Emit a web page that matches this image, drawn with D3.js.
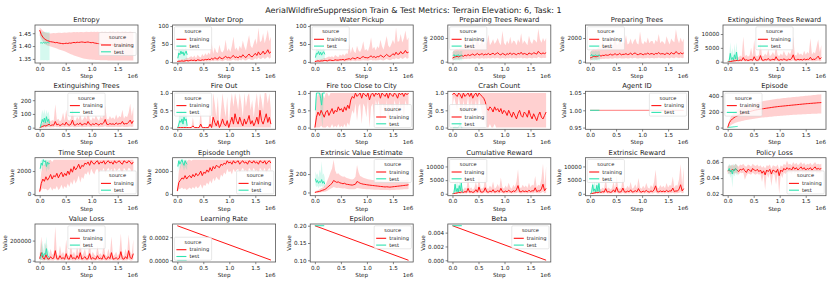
<!DOCTYPE html>
<html><head><meta charset="utf-8">
<script src="https://cdn.jsdelivr.net/npm/d3@7"></script>
<style>body{margin:0;background:#fff}svg{display:block}text{font-family:"DejaVu Sans",sans-serif;fill:#222}</style>
</head><body><svg id="c" width="831" height="283"></svg>
<script>
// ---------------- DATA ----------------
const suptitle = "AerialWildfireSuppression Train & Test Metrics: Terrain Elevation: 6, Task: 1";
const stepsK = [0,30,60,90,120,150,180,210,240,270,
 300,330,360,390,420,450,480,510,540,570,
 600,630,660,690,720,750,780,810,840,870,
 900,930,960,990,1020,1050,1080,1110,1140,1170,
 1200,1230,1260,1290,1320,1350,1380,1410,1440,1470,
 1500,1530,1560,1590,1620,1650,1680,1710,1740,1770,
 1800];
const testStepsK = [10,30,50,70,90,110,130,150,170,190];
const lineStepsK = [0,1800];
const lineTestStepsK = [0,180];
const xTicks = [0,500000,1000000,1500000];
const xTickLabels = ["0.0","0.5","1.0","1.5"];

const entropyMean = [1.462,1.445,1.435,1.428,1.424,1.421,1.419,1.417,1.416,1.415,
 1.413,1.414,1.412,1.411,1.410,1.409,1.410,1.411,1.410,1.412,
 1.411,1.413,1.414,1.413,1.415,1.414,1.415,1.416,1.415,1.414,
 1.415,1.416,1.414,1.413,1.414,1.412,1.411,1.410,1.409,1.408,
 1.407,1.406,1.406,1.405,1.405,1.404,1.405,1.404,1.403,1.404,
 1.405,1.404,1.403,1.404,1.405,1.404,1.403,1.404,1.405,1.404,
 1.404];
const entropyLo = [1.440,1.428,1.418,1.410,1.405,1.402,1.400,1.398,1.396,1.394,
 1.392,1.390,1.388,1.386,1.384,1.382,1.380,1.377,1.374,1.371,
 1.368,1.366,1.363,1.361,1.359,1.357,1.355,1.353,1.352,1.351,
 1.350,1.349,1.348,1.348,1.347,1.347,1.346,1.346,1.346,1.345,
 1.345,1.345,1.345,1.345,1.344,1.344,1.344,1.344,1.344,1.344,
 1.344,1.344,1.344,1.344,1.344,1.344,1.344,1.344,1.344,1.344,
 1.344];
const entropyHi = [1.472,1.466,1.460,1.455,1.452,1.451,1.450,1.449,1.450,1.451,
 1.450,1.451,1.452,1.452,1.451,1.452,1.453,1.452,1.453,1.454,
 1.453,1.454,1.455,1.454,1.455,1.454,1.455,1.455,1.454,1.455,
 1.456,1.455,1.455,1.456,1.455,1.456,1.455,1.456,1.455,1.455,
 1.456,1.455,1.456,1.455,1.455,1.456,1.455,1.456,1.455,1.455,
 1.456,1.455,1.455,1.456,1.455,1.456,1.455,1.455,1.456,1.455,
 1.455];
const entropyTestMean = [1.412,1.413,1.411,1.414,1.412,1.413,1.412,1.414,1.413,1.412];
const entropyTestLo = [1.345,1.345,1.346,1.345,1.345,1.346,1.345,1.345,1.346,1.345];
const entropyTestHi = [1.455,1.456,1.455,1.455,1.456,1.455,1.456,1.455,1.455,1.456];

const waterDropMean = [1,2,2,3,2,3,4,3,4,5,
 4,5,3,6,5,4,6,5,7,6,
 8,6,10,7,12,9,8,14,10,9,
 12,16,11,13,10,15,18,12,14,11,
 16,13,20,15,12,18,22,16,14,19,
 24,18,28,20,23,30,22,26,34,24,
 28];
const waterDropLo = [0,0,0,0,0,0,1,0,1,1,
 1,1,0,2,1,1,2,1,2,1,
 2,1,3,2,4,3,2,5,3,2,
 4,6,3,4,3,5,7,4,5,3,
 6,4,8,5,4,7,9,6,5,7,
 10,7,12,8,9,13,8,11,15,9,
 12];
const waterDropHi = [3,5,6,8,7,9,12,10,14,16,
 12,18,10,20,15,12,22,16,24,18,
 26,20,55,22,40,28,25,48,30,26,
 35,62,30,38,28,45,70,34,40,30,
 45,36,60,42,32,55,75,45,38,52,
 65,48,95,55,60,80,52,68,90,58,
 70];
const waterDropTestMean = [10,25,20,30,22,28,18,25,30,20];
const waterDropTestLo = [0,5,5,10,5,8,3,5,10,0];
const waterDropTestHi = [25,40,35,38,36,40,32,38,40,30];

const waterPickupMean = [1,2,3,2,3,3,4,4,3,5,
 5,4,4,6,5,5,6,6,7,5,
 7,8,9,7,11,10,8,13,11,9,
 13,15,12,12,11,14,17,13,15,12,
 15,14,19,16,13,17,21,17,15,18,
 23,19,27,21,22,29,23,25,32,25,
 27];
const waterPickupLo = [0,0,0,0,0,0,1,1,0,1,
 1,1,1,2,1,1,2,2,2,1,
 2,2,3,2,4,3,2,4,3,3,
 4,5,4,4,3,5,6,4,5,4,
 5,5,7,5,4,6,8,6,5,6,
 9,7,11,8,8,12,8,10,14,9,
 11];
const waterPickupHi = [3,5,7,7,8,9,11,11,13,15,
 14,16,12,19,16,13,21,17,22,17,
 24,22,50,24,42,30,24,45,32,28,
 38,58,32,36,30,44,68,36,42,32,
 44,38,62,44,34,52,72,46,40,50,
 62,50,96,56,58,78,54,66,88,60,
 68];
const waterPickupTestMean = [12,24,22,29,20,27,19,26,28,21];
const waterPickupTestLo = [0,6,4,9,6,7,4,6,9,1];
const waterPickupTestHi = [26,39,36,37,35,41,33,37,39,31];

const prepRewardMean = [300,380,420,450,400,480,520,450,560,500,
 600,520,580,650,540,600,700,560,620,680,
 560,640,600,700,580,650,720,600,680,760,
 620,580,700,640,560,680,620,750,600,700,
 660,580,720,640,800,620,700,650,580,740,
 680,620,760,700,640,880,720,660,740,680,
 760];
const prepRewardLo = [100,150,180,200,160,220,240,200,250,220,
 280,230,260,300,240,270,320,250,280,310,
 250,290,270,320,260,290,330,270,310,340,
 280,260,320,290,250,310,280,340,270,320,
 300,260,330,290,360,280,320,290,260,340,
 310,280,340,320,290,390,330,300,340,310,
 340];
const prepRewardHi = [800,950,1050,1100,1000,1200,1400,1100,2000,1300,
 1500,1200,1400,1800,1300,1500,2100,1400,1500,1800,
 1400,1700,1500,2300,1400,1600,1900,1500,1700,2000,
 1600,1400,2600,1600,1400,1800,1500,2100,1500,1800,
 1700,1400,1900,1600,2400,1500,1800,1600,1400,2200,
 1700,1500,1900,1800,1600,2800,1900,1600,2000,1700,
 2000];
const prepRewardTestMean = [500,600,450,550,500,600,480,520,550,500];
const prepRewardTestLo = [100,150,100,120,100,150,100,120,130,100];
const prepRewardTestHi = [900,950,850,900,880,950,850,900,920,880];

const prepTreesMean = [320,360,440,430,420,460,540,470,540,520,
 580,540,560,640,560,590,680,580,600,700,
 580,620,620,680,600,630,740,580,700,740,
 600,600,680,660,580,660,640,730,620,680,
 680,600,700,660,780,640,680,670,600,720,
 700,600,780,680,660,860,740,640,760,660,
 740];
const prepTreesLo = [110,140,190,190,170,210,250,210,240,230,
 270,240,250,290,250,260,310,260,270,320,
 260,280,280,310,270,280,340,260,320,330,
 270,270,310,300,260,300,290,330,280,310,
 310,270,320,300,350,290,310,300,270,330,
 320,270,350,310,300,380,340,290,350,300,
 330];
const prepTreesHi = [820,920,1100,1050,1050,1150,1450,1150,1900,1350,
 1450,1250,1350,1750,1350,1450,2150,1450,1450,1850,
 1450,1650,1550,2250,1450,1550,1950,1450,1750,1950,
 1550,1450,2550,1650,1450,1750,1550,2050,1550,1750,
 1750,1450,1850,1650,2350,1550,1750,1650,1450,2150,
 1750,1450,1950,1750,1650,2750,1950,1550,2050,1650,
 1950];
const prepTreesTestMean = [480,620,460,540,520,580,500,510,560,490];
const prepTreesTestLo = [110,140,110,130,90,140,110,130,120,110];
const prepTreesTestHi = [880,960,860,910,870,940,860,890,930,870];

const extRewardMean = [0,50,100,200,300,350,500,400,600,450,
 1500,500,700,450,600,800,500,1800,600,500,
 700,2200,600,500,800,600,1200,500,700,900,
 600,1800,700,500,800,600,1000,700,500,900,
 700,1200,2500,700,600,900,700,800,600,1000,
 700,900,800,1600,700,900,800,1400,2000,900,
 1500];
const extRewardLo = [0,0,0,0,50,60,100,80,120,90,
 300,100,140,90,120,160,100,360,120,100,
 140,440,120,100,160,120,240,100,140,180,
 120,360,140,100,160,120,200,140,100,180,
 140,240,500,140,120,180,140,160,120,200,
 140,180,160,320,140,180,160,280,400,180,
 300];
const extRewardHi = [0,200,400,800,1200,1400,2000,1500,2200,1800,
 9000,2000,2500,1800,2200,5000,2000,8000,2200,2000,
 2500,7000,2200,2000,3000,2200,4500,2000,2500,3500,
 2200,6000,2500,2000,3000,2200,4000,2500,2000,3500,
 2500,4500,9000,2500,2200,3500,2500,3000,2200,4000,
 2500,3500,3000,8500,2500,3500,3000,5500,8000,3500,
 6000];
const extRewardTestMean = [0,500,3000,800,1500,600,2500,1000,3500,500];
const extRewardTestLo = [0,0,500,0,200,0,500,100,800,0];
const extRewardTestHi = [200,2000,7000,3000,5000,2000,6500,3000,7000,1500];

const extTreesMean = [0,5,10,15,12,18,25,15,20,18,
 45,20,25,15,22,30,18,40,22,18,
 25,55,20,18,30,22,35,18,25,30,
 22,45,25,18,28,22,32,25,18,30,
 25,35,60,25,22,30,25,28,22,35,
 25,30,28,45,25,30,28,40,55,30,
 50];
const extTreesLo = [0,0,0,2,2,3,4,2,3,3,
 8,3,4,2,4,5,3,7,4,3,
 4,9,3,3,5,4,6,3,4,5,
 4,8,4,3,5,4,5,4,3,5,
 4,6,10,4,4,5,4,5,4,6,
 4,5,5,8,4,5,5,7,9,5,
 8];
const extTreesHi = [5,20,35,45,40,50,70,45,55,50,
 170,55,65,45,60,110,50,130,60,50,
 65,150,55,50,80,60,100,50,65,85,
 60,130,65,50,75,60,90,65,50,85,
 65,100,160,65,60,85,65,75,60,95,
 65,85,75,130,65,85,75,110,175,85,
 150];
const extTreesTestMean = [0,30,60,40,70,35,80,45,60,30];
const extTreesTestLo = [0,0,10,0,15,0,20,5,10,0];
const extTreesTestHi = [20,90,130,100,135,90,130,100,120,80];

const fireOutMean = [0,0,0,0,0,0,0,0,0,0,
 0.05,0,0,0,0,0.1,0,0,0,0,
 0,0.1,0,0.3,0.15,0.05,0.2,0,0.1,0.25,
 0.1,0.05,0.2,0,0.15,0.3,0.1,0.4,0.2,0.1,
 0.3,0.15,0.05,0.25,0.1,0.2,0.35,0.1,0.2,0.05,
 0.15,0.3,0.1,0.5,0.2,0.1,0.25,0.4,0.15,0.3,
 0.1];
const fireOutLo = [0,0,0,0,0,0,0,0,0,0,
 0,0,0,0,0,0,0,0,0,0,
 0,0,0,0,0,0,0,0,0,0,
 0,0,0,0,0,0,0,0,0,0,
 0,0,0,0,0,0,0,0,0,0,
 0,0,0,0,0,0,0,0,0,0,
 0];
const fireOutHi = [0,0,0,0,0,0,0,0,0,0,
 0.3,0,0,0,0,0.5,0,0,0,0,
 0,0.6,0,1,0.7,0.3,0.9,0,0.5,1,
 0.6,0.3,0.9,0,0.7,1,0.6,1,0.8,0.5,
 1,0.7,0.3,1,0.6,0.9,1,0.5,0.8,0.3,
 0.7,1,0.5,1,0.8,0.5,1,1,0.7,1,
 0.5];
const fireOutTestMean = [0,0.1,0.2,0.15,0.25,0.1,0.3,0.2,0.25,0.05];
const fireOutTestLo = [0,0,0,0,0,0,0,0,0,0];
const fireOutTestHi = [0,0.3,0.5,0.4,0.55,0.3,0.6,0.45,0.5,0.2];

const fireCityMean = [0.0,0.3,0.45,0.35,0.5,0.4,0.3,0.45,0.5,0.35,
 0.45,0.55,0.4,0.5,0.45,0.6,0.5,0.55,0.45,0.6,
 0.5,0.65,0.55,0.8,0.9,0.85,1.0,0.9,0.95,1.0,
 0.85,1.0,0.95,0.9,1.0,0.8,0.95,1.0,0.9,1.0,
 0.95,1.0,0.85,1.0,0.95,0.9,1.0,0.85,1.0,0.95,
 0.9,1.0,0.95,0.85,1.0,0.95,1.0,0.9,1.0,0.95,
 1.0];
const fireCityLo = [0,0,0,0,0.05,0,0,0,0.05,0,
 0,0.1,0,0.05,0,0.1,0,0.05,0,0.1,
 0,0.15,0.05,0.3,0.5,0.4,0.7,0.2,0.6,0.7,
 0.1,0.7,0.6,0.3,0.8,0,0.6,0.7,0.2,0.8,
 0.6,0.8,0.1,0.7,0.6,0.3,0.8,0,0.7,0.6,
 0.3,0.8,0.6,0.1,0.8,0.5,0.7,0.2,0.8,0.6,
 0.7];
const fireCityHi = [0.1,0.8,1,0.9,1,0.95,0.85,1,1,0.9,
 1,1,1,1,1,1,1,1,1,1,
 1,1,1,1,1,1,1,1,1,1,
 1,1,1,1,1,1,1,1,1,1,
 1,1,1,1,1,1,1,1,1,1,
 1,1,1,1,1,1,1,1,1,1,
 1];
const fireCityTestMean = [0.5,1,1,1,1,0.85,0.65,1,1,1];
const fireCityTestLo = [0.2,1,1,1,0.9,0.5,0.2,0,1,1];
const fireCityTestHi = [0.8,1,1,1,1,1,1,1,1,1];

const crashMean = [0.95,1.0,0.95,0.9,1.0,0.95,0.85,1.0,0.9,0.95,
 1.0,0.9,1.0,0.85,0.95,1.0,0.9,1.0,0.95,0.9,
 0.85,0.75,0.55,0.5,0.6,0.55,0.45,0.6,0.5,0.55,
 0.45,0.55,0.4,0.5,0.45,0.35,0.5,0.4,0.3,0.45,
 0.35,0.25,0.4,0.5,0.35,0.3,0.45,0.4,0.3,0.5,
 0.35,0.25,0.4,0.3,0.2,0.35,0.45,0.3,0.25,0.35,
 0.45];
const crashLo = [0.6,0.9,0.7,0.5,0.9,0.6,0.3,0.8,0.5,0.6,
 0.9,0.4,0.8,0.3,0.5,0.8,0.4,0.9,0.6,0.4,
 0.3,0.1,0,0,0.1,0,0,0.1,0,0,
 0,0,0,0,0,0,0,0,0,0,
 0,0,0,0,0,0,0,0,0,0,
 0,0,0,0,0,0,0,0,0,0,
 0];
const crashHi = [1,1,1,1,1,1,1,1,1,1,
 1,1,1,1,1,1,1,1,1,1,
 1,1,1,1,1,1,1,1,1,1,
 1,1,1,1,1,1,1,1,1,1,
 1,1,1,1,1,1,1,1,1,1,
 1,1,1,1,1,1,1,1,1,1,
 1];
const crashTestMean = [0,0,0,0,0,0,0.05,0.1,0,0];
const crashTestLo = [0,0,0,0,0,0,0,0,0,0];
const crashTestHi = [0,0,0.1,0,0,0,0.2,0.3,0,0];

const agentIdMean = [1,1];
const agentIdTestMean = [1,1];

const episodeMean = [0,60,90,110,125,138,148,157,165,172,
 178,184,190,196,202,208,214,219,224,228,
 232,235,238,241,244,247,250,253,256,259,
 262,264,267,269,271,273,275,277,279,281,
 283,285,287,289,291,293,295,297,299,301,
 303,305,306,308,309,311,312,314,316,317,
 318];
const episodeLo = [0,12,28,42,52,60,67,73,78,83,
 88,92,96,100,104,107,110,113,116,119,
 122,124,127,129,131,133,135,137,139,141,
 143,145,147,148,150,152,153,155,156,158,
 159,160,162,163,164,166,167,168,169,170,
 171,172,173,174,175,176,177,177,178,178,
 179];
const episodeHi = [0,90,135,165,188,206,221,234,245,255,
 264,272,280,287,293,299,305,310,315,320,
 325,329,333,337,341,345,348,351,354,357,
 360,363,366,368,371,373,376,378,380,382,
 384,386,388,390,392,394,396,398,400,402,
 404,406,408,410,412,414,416,418,420,422,
 424];
const episodeTestMean = [1,3,4,6,7,9,10,12,13,15];
const episodeTestLo = [0,2,3,5,6,8,9,11,12,14];
const episodeTestHi = [2,4,5,7,8,10,11,13,14,16];

const stepCountMean = [200,900,1300,1100,1500,1200,1400,1700,1300,1600,
 1500,1800,1400,1700,1900,1500,1800,1600,2000,1700,
 2200,1900,2400,2100,2300,2600,2200,2500,2400,2700,
 2600,2800,2500,2900,2700,2600,2800,2900,2600,2800,
 2700,2900,2600,2800,2900,2700,2800,2600,2900,2700,
 2800,2900,2700,2600,2900,2800,2700,2900,2800,2600,
 2800];
const stepCountLo = [100,350,500,400,450,300,400,600,300,500,
 400,700,350,500,800,400,700,500,900,600,
 1100,800,1300,900,1200,1600,1000,1500,1300,1800,
 1700,2000,1600,2200,1900,1700,2100,2200,1800,2100,
 2000,2300,1800,2100,2300,2000,2200,1800,2300,2000,
 2100,2300,2000,1800,2300,2100,2000,2300,2200,1900,
 2100];
const stepCountHi = [400,1900,2600,2500,3000,2700,2900,3000,2800,3000,
 3000,3000,3000,3000,3000,3000,3000,3000,3000,3000,
 3000,3000,3000,3000,3000,3000,3000,3000,3000,3000,
 3000,3000,3000,3000,3000,3000,3000,3000,3000,3000,
 3000,3000,3000,3000,3000,3000,3000,3000,3000,3000,
 3000,3000,3000,3000,3000,3000,3000,3000,3000,3000,
 3000];
const stepCountTestMean = [2200,2700,2500,3000,2800,2900,2400,2800,2600,2700];
const stepCountTestLo = [1800,2300,2000,2600,2400,2500,1900,2300,2100,2200];
const stepCountTestHi = [2800,3000,3000,3000,3000,3000,3000,3000,3000,3000];

const epLenMean = [250,1000,1200,1400,1300,1600,1300,1500,1600,1400,
 1700,1500,1800,1600,1700,2000,1600,1900,1800,2100,
 1900,2300,2000,2400,2200,2500,2400,2300,2600,2500,
 2700,2600,2900,2700,2800,2600,2900,2700,2800,2900,
 2600,2800,2900,2700,2800,2600,2900,2800,2700,2900,
 2700,2800,2600,2900,2800,2700,2900,2600,2800,2900,
 2700];
const epLenLo = [120,400,450,550,400,500,350,450,550,400,
 600,450,700,500,600,850,450,800,700,1000,
 800,1200,900,1400,1100,1500,1300,1200,1700,1500,
 1900,1700,2200,1900,2000,1700,2200,1900,2100,2200,
 1800,2100,2300,2000,2100,1800,2300,2100,2000,2300,
 2000,2100,1800,2300,2100,2000,2300,1800,2100,2300,
 2000];
const epLenHi = [450,2000,2500,2800,2600,3000,2800,3000,3000,2900,
 3000,3000,3000,3000,3000,3000,3000,3000,3000,3000,
 3000,3000,3000,3000,3000,3000,3000,3000,3000,3000,
 3000,3000,3000,3000,3000,3000,3000,3000,3000,3000,
 3000,3000,3000,3000,3000,3000,3000,3000,3000,3000,
 3000,3000,3000,3000,3000,3000,3000,3000,3000,3000,
 3000];
const epLenTestMean = [2400,2900,2600,2800,3000,2700,2500,2900,2700,2600];
const epLenTestLo = [1900,2400,2100,2400,2600,2300,2000,2400,2200,2100];
const epLenTestHi = [2900,3000,3000,3000,3000,3000,3000,3000,3000,3000];

const valueEstMean = [0,5,8,12,18,25,30,40,55,70,
 85,100,130,120,110,115,105,100,95,100,
 90,88,85,82,80,85,90,120,110,100,
 95,90,88,85,82,80,78,76,74,72,
 70,68,66,64,62,60,62,60,58,60,
 62,64,66,68,70,72,74,76,78,80,
 84];
const valueEstLo = [0,0,0,0,2,5,8,12,20,30,
 40,48,60,55,50,52,48,45,42,45,
 40,38,36,35,34,36,38,50,46,42,
 40,38,37,36,35,34,33,32,31,30,
 30,29,28,28,27,26,27,26,25,26,
 27,28,29,30,31,32,33,34,35,36,
 38];
const valueEstHi = [10,20,25,35,45,55,70,90,130,170,
 220,260,355,240,200,210,190,180,170,175,
 160,155,150,145,140,150,170,300,220,180,
 170,160,155,150,145,140,138,135,132,130,
 128,126,124,122,120,118,120,118,116,118,
 120,122,124,126,128,130,132,134,136,138,
 140];
const valueEstTestMean = [150,110,130,100,120,110,140,100,120,90];
const valueEstTestLo = [80,60,70,50,70,60,70,60,70,50];
const valueEstTestHi = [230,190,210,160,250,210,340,190,210,160];

const cumRewardMean = [0,100,200,300,500,400,700,500,800,600,
 2000,600,800,500,700,1500,600,2500,700,600,
 800,2200,700,600,1000,700,1500,600,800,1200,
 700,2000,800,600,1000,700,1300,800,600,1100,
 800,1500,3000,800,700,1100,800,1000,700,1300,
 800,1100,1000,2200,800,1100,1000,1800,3500,1100,
 2000];
const cumRewardLo = [0,0,0,0,100,80,140,100,160,120,
 400,120,160,100,140,300,120,500,140,120,
 160,440,140,120,200,140,300,120,160,240,
 140,400,160,120,200,140,260,160,120,220,
 160,300,600,160,140,220,160,200,140,260,
 160,220,200,440,160,220,200,360,700,220,
 400];
const cumRewardHi = [0,300,600,900,1500,1200,2000,1500,2400,1800,
 6000,1800,2400,1500,2100,4500,1800,7000,2100,1800,
 2400,6500,2100,1800,3000,2100,4500,1800,2400,3600,
 2100,6000,2400,1800,3000,2100,4000,2400,1800,3300,
 2400,4500,9000,2400,2100,3300,2400,3000,2100,4000,
 2400,3300,3000,6500,2400,3300,3000,5500,11000,3300,
 10000];
const cumRewardTestMean = [0,500,3500,800,2000,600,3000,1000,4000,500];
const cumRewardTestLo = [0,0,1000,0,500,0,800,200,1500,0];
const cumRewardTestHi = [200,2000,4500,3000,5000,2000,5000,3000,5000,1500];

const extrRewardMean = [0,120,180,320,480,420,680,520,780,620,
 1900,620,780,520,680,1450,620,2400,720,620,
 780,2100,720,620,980,720,1450,620,780,1150,
 720,1900,780,620,980,720,1250,780,620,1050,
 780,1450,2900,780,720,1050,780,980,720,1250,
 780,1050,980,2100,780,1050,980,1700,3300,1050,
 1900];
const extrRewardLo = [0,0,0,0,90,80,130,100,150,120,
 380,120,150,100,130,290,120,480,140,120,
 150,420,140,120,190,140,290,120,150,230,
 140,380,150,120,190,140,250,150,120,210,
 150,290,580,150,140,210,150,190,140,250,
 150,210,190,420,150,210,190,340,660,210,
 380];
const extrRewardHi = [0,320,620,950,1450,1250,1900,1550,2300,1850,
 5800,1850,2300,1550,2050,4300,1850,6800,2050,1850,
 2300,6300,2050,1850,2900,2050,4300,1850,2300,3500,
 2050,5800,2300,1850,2900,2050,3900,2300,1850,3200,
 2300,4300,8800,2300,2050,3200,2300,2900,2050,3900,
 2300,3200,2900,6300,2300,3200,2900,5300,10800,3200,
 9600];
const extrRewardTestMean = [0,600,3300,900,1800,700,3100,900,3800,600];
const extrRewardTestLo = [0,0,900,0,400,0,900,100,1400,0];
const extrRewardTestHi = [300,2100,4400,2900,4800,2100,4900,2900,4900,1600];

const policyLossMean = [0.049,0.050,0.048,0.051,0.049,0.052,0.050,0.048,0.051,0.050,
 0.052,0.049,0.047,0.051,0.050,0.048,0.052,0.050,0.049,0.051,
 0.048,0.050,0.046,0.049,0.044,0.050,0.048,0.051,0.045,0.050,
 0.049,0.047,0.051,0.043,0.050,0.048,0.052,0.050,0.053,0.051,
 0.052,0.050,0.054,0.051,0.053,0.050,0.052,0.054,0.051,0.053,
 0.050,0.052,0.051,0.053,0.050,0.052,0.054,0.051,0.052,0.051,
 0.052];
const policyLossLo = [0.045,0.046,0.044,0.047,0.045,0.047,0.046,0.044,0.047,0.046,
 0.047,0.038,0.043,0.046,0.045,0.044,0.047,0.045,0.044,0.046,
 0.044,0.045,0.035,0.045,0.025,0.046,0.040,0.046,0.030,0.045,
 0.044,0.032,0.046,0.020,0.045,0.040,0.047,0.045,0.048,0.046,
 0.047,0.045,0.049,0.046,0.048,0.045,0.047,0.049,0.046,0.048,
 0.045,0.047,0.046,0.048,0.045,0.047,0.049,0.046,0.047,0.046,
 0.047];
const policyLossHi = [0.054,0.056,0.055,0.057,0.055,0.058,0.056,0.054,0.057,0.056,
 0.058,0.055,0.054,0.057,0.056,0.054,0.058,0.056,0.055,0.057,
 0.054,0.056,0.053,0.055,0.052,0.056,0.055,0.057,0.052,0.056,
 0.055,0.054,0.057,0.051,0.056,0.054,0.058,0.056,0.062,0.057,
 0.058,0.056,0.060,0.057,0.059,0.056,0.058,0.060,0.057,0.059,
 0.056,0.058,0.057,0.059,0.056,0.058,0.060,0.057,0.058,0.057,
 0.058];
const policyLossTestMean = [0.049,0.052,0.048,0.050,0.045,0.051,0.049,0.052,0.050,0.049];
const policyLossTestLo = [0.044,0.046,0.040,0.043,0.028,0.044,0.042,0.046,0.044,0.043];
const policyLossTestHi = [0.055,0.058,0.056,0.057,0.054,0.058,0.056,0.058,0.057,0.055];

const valueLossMean = [20000,80000,30000,15000,60000,20000,15000,40000,20000,25000,
 100000,20000,15000,50000,20000,30000,15000,70000,20000,15000,
 60000,20000,30000,15000,50000,20000,80000,15000,25000,40000,
 15000,20000,70000,15000,30000,20000,15000,50000,20000,25000,
 15000,60000,20000,15000,40000,20000,80000,15000,20000,30000,
 15000,25000,90000,20000,15000,40000,20000,100000,30000,20000,
 70000];
const valueLossLo = [2000,10000,3000,1000,8000,2000,1000,5000,2000,3000,
 15000,2000,1000,6000,2000,3000,1000,9000,2000,1000,
 8000,2000,3000,1000,6000,2000,10000,1000,3000,5000,
 1000,2000,9000,1000,3000,2000,1000,6000,2000,3000,
 1000,8000,2000,1000,5000,2000,10000,1000,2000,3000,
 1000,3000,12000,2000,1000,5000,2000,14000,3000,2000,
 9000];
const valueLossHi = [60000,240000,90000,45000,180000,60000,45000,120000,60000,75000,
 340000,60000,45000,150000,60000,90000,45000,210000,60000,45000,
 180000,60000,90000,45000,150000,60000,240000,45000,75000,120000,
 45000,60000,210000,45000,90000,60000,45000,150000,60000,75000,
 45000,180000,60000,45000,120000,60000,240000,45000,60000,90000,
 45000,75000,270000,60000,45000,120000,60000,260000,90000,60000,
 210000];
const valueLossTestMean = [20000,50000,80000,40000,70000,60000,120000,50000,40000,30000];
const valueLossTestLo = [0,5000,10000,5000,8000,5000,15000,5000,4000,2000];
const valueLossTestHi = [60000,150000,200000,100000,180000,150000,240000,120000,100000,80000];

const learningRate = [0.0003,0.0000017];
const learningRateTest = [0,0];
const epsilon = [0.2,0.1];
const epsilonTest = [0.2,0.2];
const beta = [0.005,0.00001];
const betaTest = [0.005,0.005];

const ticks01 = [0,0.5,1], labels01 = ["0.0","0.5","1.0"];

// ---------------- LAYOUT / STYLE ----------------
const RED = "#ff1414", CYAN = "#2fe3b0";
const X_DOMAIN = [-90000, 1890000];
const L0 = 35, DX = 137.6, W = 103, H = 38, TOPS = [25, 91.3, 157.7, 224];

function ser(xk, m, lo, hi) { return {x: xk.map(v => v * 1000), m, lo: lo || m, hi: hi || m}; }

const panels = [
 {t:"Entropy", tr:ser(stepsK,entropyMean,entropyLo,entropyHi), te:ser(testStepsK,entropyTestMean,entropyTestLo,entropyTestHi), yd:[1.334,1.482], yt:[1.35,1.40,1.45], yl:["1.35","1.40","1.45"], leg:"center right"},
 {t:"Water Drop", tr:ser(stepsK,waterDropMean,waterDropLo,waterDropHi), te:ser(testStepsK,waterDropTestMean,waterDropTestLo,waterDropTestHi), yd:[-3,103], yt:[0,50,100], yl:["0","50","100"], leg:"upper left"},
 {t:"Water Pickup", tr:ser(stepsK,waterPickupMean,waterPickupLo,waterPickupHi), te:ser(testStepsK,waterPickupTestMean,waterPickupTestLo,waterPickupTestHi), yd:[-3,103], yt:[0,50,100], yl:["0","50","100"], leg:"upper left"},
 {t:"Preparing Trees Reward", tr:ser(stepsK,prepRewardMean,prepRewardLo,prepRewardHi), te:ser(testStepsK,prepRewardTestMean,prepRewardTestLo,prepRewardTestHi), yd:[-110,3100], yt:[0,2000], yl:["0","2000"], leg:"upper left"},
 {t:"Preparing Trees", tr:ser(stepsK,prepTreesMean,prepTreesLo,prepTreesHi), te:ser(testStepsK,prepTreesTestMean,prepTreesTestLo,prepTreesTestHi), yd:[-110,3100], yt:[0,2000], yl:["0","2000"], leg:"upper left"},
 {t:"Extinguishing Trees Reward", tr:ser(stepsK,extRewardMean,extRewardLo,extRewardHi), te:ser(testStepsK,extRewardTestMean,extRewardTestLo,extRewardTestHi), yd:[-470,13260], yt:[0,5000,10000], yl:["0","5000","10000"], leg:"upper center"},
 {t:"Extinguishing Trees", tr:ser(stepsK,extTreesMean,extTreesLo,extTreesHi), te:ser(testStepsK,extTreesTestMean,extTreesTestLo,extTreesTestHi), yd:[-12,265], yt:[0,100,200], yl:["0","100","200"], leg:"upper center"},
 {t:"Fire Out", tr:ser(stepsK,fireOutMean,fireOutLo,fireOutHi), te:ser(testStepsK,fireOutTestMean,fireOutTestLo,fireOutTestHi), yd:[-0.05,1.05], yt:ticks01, yl:labels01, leg:"upper left"},
 {t:"Fire too Close to City", tr:ser(stepsK,fireCityMean,fireCityLo,fireCityHi), te:ser(testStepsK,fireCityTestMean,fireCityTestLo,fireCityTestHi), yd:[-0.05,1.05], yt:ticks01, yl:labels01, leg:"lower right"},
 {t:"Crash Count", tr:ser(stepsK,crashMean,crashLo,crashHi), te:ser(testStepsK,crashTestMean,crashTestLo,crashTestHi), yd:[-0.05,1.05], yt:ticks01, yl:labels01, leg:"lower left"},
 {t:"Agent ID", tr:ser(lineStepsK,agentIdMean), te:ser(lineTestStepsK,agentIdTestMean), yd:[0.945,1.055], yt:[0.95,1.00,1.05], yl:["0.95","1.00","1.05"], leg:"upper right", lineOp:0.55},
 {t:"Episode", tr:ser(stepsK,episodeMean,episodeLo,episodeHi), te:ser(testStepsK,episodeTestMean,episodeTestLo,episodeTestHi), yd:[-22,462], yt:[0,200,400], yl:["0","200","400"], leg:"upper left"},
 {t:"Time Step Count", tr:ser(stepsK,stepCountMean,stepCountLo,stepCountHi), te:ser(testStepsK,stepCountTestMean,stepCountTestLo,stepCountTestHi), yd:[-160,3170], yt:[0,2000], yl:["0","2000"], leg:"lower right"},
 {t:"Episode Length", tr:ser(stepsK,epLenMean,epLenLo,epLenHi), te:ser(testStepsK,epLenTestMean,epLenTestLo,epLenTestHi), yd:[-160,3170], yt:[0,2000], yl:["0","2000"], leg:"lower right"},
 {t:"Extrinsic Value Estimate", tr:ser(stepsK,valueEstMean,valueEstLo,valueEstHi), te:ser(testStepsK,valueEstTestMean,valueEstTestLo,valueEstTestHi), yd:[-35,378], yt:[0,200], yl:["0","200"], leg:"upper right"},
 {t:"Cumulative Reward", tr:ser(stepsK,cumRewardMean,cumRewardLo,cumRewardHi), te:ser(testStepsK,cumRewardTestMean,cumRewardTestLo,cumRewardTestHi), yd:[-700,13200], yt:[0,5000,10000], yl:["0","5000","10000"], leg:"upper left"},
 {t:"Extrinsic Reward", tr:ser(stepsK,extrRewardMean,extrRewardLo,extrRewardHi), te:ser(testStepsK,extrRewardTestMean,extrRewardTestLo,extrRewardTestHi), yd:[-700,13200], yt:[0,5000,10000], yl:["0","5000","10000"], leg:"upper left"},
 {t:"Policy Loss", tr:ser(stepsK,policyLossMean,policyLossLo,policyLossHi), te:ser(testStepsK,policyLossTestMean,policyLossTestLo,policyLossTestHi), yd:[0.018,0.0654], yt:[0.02,0.04,0.06], yl:["0.02","0.04","0.06"], leg:"lower right"},
 {t:"Value Loss", tr:ser(stepsK,valueLossMean,valueLossLo,valueLossHi), te:ser(testStepsK,valueLossTestMean,valueLossTestLo,valueLossTestHi), yd:[-13000,365000], yt:[0,200000], yl:["0","200000"], leg:"upper center"},
 {t:"Learning Rate", tr:ser(lineStepsK,learningRate), te:ser(lineTestStepsK,learningRateTest), yd:[-0.000015,0.000315], yt:[0,0.0002], yl:["0.0000","0.0002"], leg:"lower left"},
 {t:"Epsilon", tr:ser(lineStepsK,epsilon), te:ser(lineTestStepsK,epsilonTest), yd:[0.095,0.205], yt:[0.10,0.15,0.20], yl:["0.10","0.15","0.20"], leg:"upper right"},
 {t:"Beta", tr:ser(lineStepsK,beta), te:ser(lineTestStepsK,betaTest), yd:[-0.00025,0.00525], yt:[0,0.002,0.004], yl:["0.000","0.002","0.004"], leg:"upper right"}
];

const svg = d3.select("#c");
const defs = svg.append("defs");

const st = svg.append("text").attr("x", 413.5).attr("y", 12.5).attr("text-anchor", "middle")
  .style("font-size", "8px").text(suptitle);
const stLen = st.node().getComputedTextLength();
st.style("font-size", (8 * 297 / stLen) + "px");

const TICK_FS = 5.6, TITLE_FS = 6.8, LEG_FS = 5.1, LAB_FS = 5.6;

panels.forEach((p, i) => {
  const col = i % 6, row = Math.floor(i / 6);
  const x0 = L0 + col * DX, y0 = TOPS[row];
  const g = svg.append("g").attr("transform", `translate(${x0},${y0})`);
  const x = d3.scaleLinear().domain(X_DOMAIN).range([0, W]);
  const y = d3.scaleLinear().domain(p.yd).range([H, 0]);
  const cid = "clip" + i;
  defs.append("clipPath").attr("id", cid).append("rect").attr("width", W).attr("height", H);
  const plot = g.append("g").attr("clip-path", `url(#${cid})`);

  [[p.tr, RED], [p.te, CYAN]].forEach(([s, c]) => {
    const idx = d3.range(s.x.length);
    const area = d3.area().x(j => x(s.x[j])).y0(j => y(s.lo[j])).y1(j => y(s.hi[j]));
    plot.append("path").attr("d", area(idx)).attr("fill", c).attr("fill-opacity", 0.2).attr("stroke", "none");
  });
  [[p.tr, RED, p.lineOp || 1], [p.te, CYAN, 1]].forEach(([s, c, op]) => {
    const idx = d3.range(s.x.length);
    const line = d3.line().x(j => x(s.x[j])).y(j => y(s.m[j]));
    plot.append("path").attr("d", line(idx)).attr("fill", "none").attr("stroke", c)
      .attr("stroke-width", 1).attr("stroke-opacity", op).attr("stroke-linejoin", "round");
  });

  const xa = g.append("g").attr("transform", `translate(0,${H})`)
    .call(d3.axisBottom(x).tickValues(xTicks).tickFormat((d, k) => xTickLabels[k]).tickSize(2.2).tickPadding(1.5));
  const ya = g.append("g")
    .call(d3.axisLeft(y).tickValues(p.yt).tickFormat((d, k) => p.yl[k]).tickSize(2.2).tickPadding(1.5));
  [xa, ya].forEach(a => {
    a.select(".domain").remove();
    a.selectAll(".tick line").attr("stroke", "#333").attr("stroke-width", 0.6);
    a.selectAll(".tick text").style("font-size", TICK_FS + "px").style("font-family", "DejaVu Sans").attr("fill", "#222");
  });
  let maxW = 0;
  ya.selectAll(".tick text").each(function () { maxW = Math.max(maxW, this.getComputedTextLength()); });

  g.append("rect").attr("width", W).attr("height", H).attr("fill", "none").attr("stroke", "#555").attr("stroke-width", 0.8);

  g.append("text").attr("x", W / 2).attr("y", -3).attr("text-anchor", "middle").style("font-size", TITLE_FS + "px").text(p.t);
  g.append("text").attr("x", W / 2).attr("y", H + 15).attr("text-anchor", "middle").style("font-size", LAB_FS + "px").text("Step");
  g.append("text").attr("x", W).attr("y", H + 14.5).attr("text-anchor", "end").style("font-size", TICK_FS + "px").text("1e6");
  g.append("text").attr("transform", `translate(${-maxW - 7},${H / 2}) rotate(-90)`).attr("text-anchor", "middle")
    .style("font-size", LAB_FS + "px").text("Value");

  const lg = g.append("g");
  const tmp = lg.append("text").style("font-size", LEG_FS + "px").text("training");
  const tw = tmp.node().getComputedTextLength(); tmp.remove();
  const bw = 15 + tw + 2.5, bh = 23, pad = 1.8;
  let lx = p.leg.includes("left") ? pad : p.leg.includes("right") ? W - bw - pad : (W - bw) / 2;
  let ly = p.leg.startsWith("upper") ? pad : p.leg.startsWith("lower") ? H - bh - pad : (H - bh) / 2;
  lg.attr("transform", `translate(${lx},${ly})`);
  lg.append("rect").attr("width", bw).attr("height", bh).attr("rx", 1.2).attr("fill", "#fff").attr("fill-opacity", 0.8)
    .attr("stroke", "#d6d6d6").attr("stroke-width", 0.6);
  lg.append("text").attr("x", bw / 2).attr("y", 6.6).attr("text-anchor", "middle").style("font-size", LEG_FS + "px").text("source");
  [["training", RED], ["test", CYAN]].forEach(([name, c], k) => {
    const yy = 12.5 + k * 6.8;
    lg.append("line").attr("x1", 2).attr("x2", 12).attr("y1", yy).attr("y2", yy).attr("stroke", c).attr("stroke-width", 1.1);
    lg.append("text").attr("x", 15).attr("y", yy + 1.8).style("font-size", LEG_FS + "px").text(name);
  });
});
</script></body></html>
